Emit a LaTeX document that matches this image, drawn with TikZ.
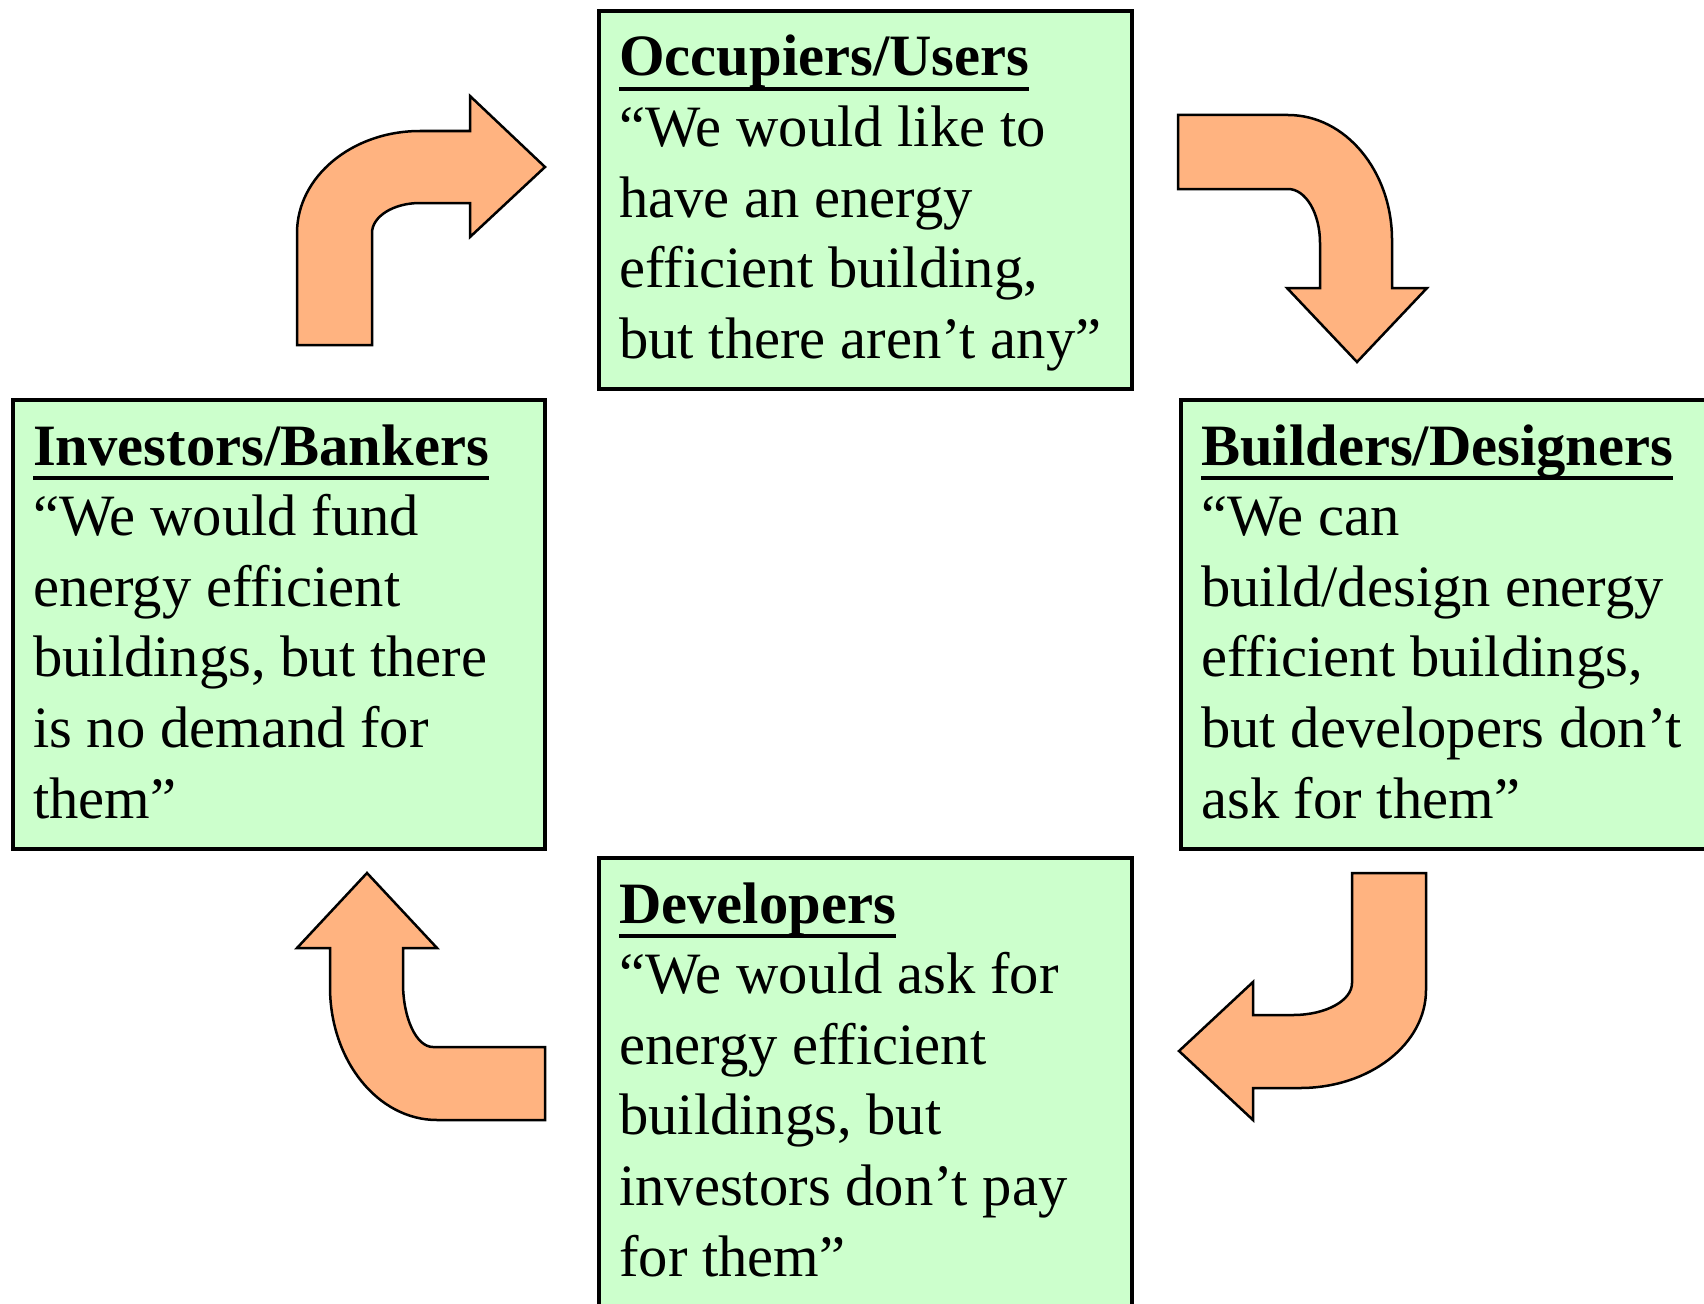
\documentclass[tikz,border=0pt]{standalone}
\usepackage{fontspec}
\setmainfont{Liberation Serif}
\definecolor{boxgreen}{HTML}{CCFFCC}
\definecolor{arroworange}{HTML}{FFB380}
\newcommand\ttlu[1]{{\bfseries\setbox0\hbox{#1}\rlap{\rule[-14.6pt]{\wd0}{3.3pt}}\box0}}
\newcommand\boxtextfont{\fontsize{58.6}{70.6}\selectfont}
\tikzset{
  boxnode/.style={draw=black, line width=4pt, fill=boxgreen, rectangle, anchor=north west, inner sep=0pt},
  txt/.style={anchor=base west, inner sep=0pt, text width=540pt, align=flush left, font=\boxtextfont},
  bentarrow/.style={draw=black, line width=2.5pt, fill=arroworange, line join=miter}
}
\begin{document}
\begin{tikzpicture}[x=1pt, y=-1pt]
\useasboundingbox (0,0) rectangle (1704,1303);
\clip (0,0) rectangle (1704,1303);
% boxes
\node[boxnode, minimum width=533pt, minimum height=377.5pt] (occ) at (597,9.5) {};
\node[boxnode, minimum width=532pt, minimum height=448.5pt] (inv) at (11,398) {};
\node[boxnode, minimum width=600pt, minimum height=448.5pt] (bld) at (1179,398) {};
\node[boxnode, minimum width=533pt, minimum height=500pt] (dev) at (597,856) {};
% texts
\node[txt] (occT) at (619,76) {\ttlu{Occupiers/Users}\\“We would like to\\have an energy\\efficient building,\\but there aren’t any”};
\node[txt] (invT) at (33,465) {\ttlu{Investors/Bankers}\\“We would fund\\energy efficient\\buildings, but there\\is no demand for\\them”};
\node[txt] (bldT) at (1201,465) {\ttlu{Builders/Designers}\\“We can\\build/design energy\\efficient buildings,\\but developers don’t\\ask for them”};
\node[txt] (devT) at (619,923) {\ttlu{Developers}\\“We would ask for\\energy efficient\\buildings, but\\investors don’t pay\\for them”};
% bent arrows
% Investors -> Occupiers
\draw[bentarrow] (297,345) -- (297,233)
  .. controls (297,176.7) and (352.1,131) .. (420,131)
  -- (470,131) -- (470,96) -- (545,167) -- (470,237) -- (470,203) -- (420,203)
  .. controls (393.5,203) and (372,216.4) .. (372,233)
  -- (372,345) -- cycle;
% Occupiers -> Builders
\draw[bentarrow] (1178,115) -- (1288,115)
  .. controls (1345.4,115) and (1392,171) .. (1392,240)
  -- (1392,288) -- (1427,288) -- (1357,362) -- (1287,288) -- (1320,288) -- (1320,243)
  .. controls (1320,213.2) and (1305.7,189) .. (1288,189)
  -- (1178,189) -- cycle;
% Builders -> Developers
\draw[bentarrow] (1426,873) -- (1426,990)
  .. controls (1426,1044.1) and (1369.6,1088) .. (1300,1088)
  -- (1253,1088) -- (1253,1120) -- (1179,1051) -- (1253,982) -- (1253,1015) -- (1293,1015)
  .. controls (1325.6,1015) and (1352,1000.7) .. (1352,983)
  -- (1352,873) -- cycle;
% Developers -> Investors
\draw[bentarrow] (545,1047) -- (433,1047)
  .. controls (416.4,1047) and (403,1018.3) .. (403,983)
  -- (403,948) -- (437,948) -- (367,873) -- (297,948) -- (330,948) -- (330,987)
  .. controls (330,1060.5) and (377.9,1120) .. (437,1120)
  -- (545,1120) -- cycle;
\end{tikzpicture}
\end{document}
